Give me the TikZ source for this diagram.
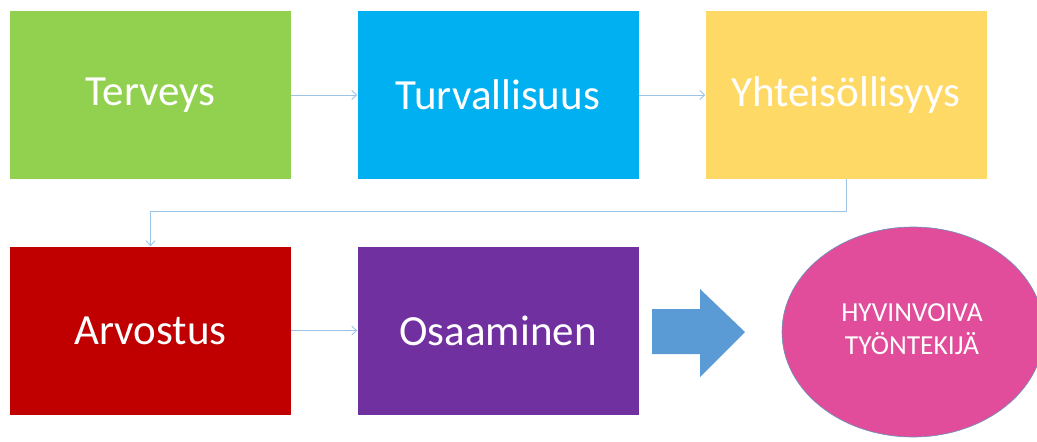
\documentclass[tikz,border=0pt]{standalone}
\usepackage{fontspec}
\setmainfont{Carlito}
\usetikzlibrary{arrows.meta,shapes.geometric}
\definecolor{cgreen}{HTML}{92D050}
\definecolor{cblue}{HTML}{00B0F0}
\definecolor{cyellow}{HTML}{FFD966}
\definecolor{cred}{HTML}{C00000}
\definecolor{cpurple}{HTML}{7030A0}
\definecolor{cpink}{HTML}{E14D9A}
\definecolor{cline}{HTML}{9DC3E6}
\definecolor{carrow}{HTML}{5B9BD5}
\newcommand{\lowtxt}[1]{\raisebox{-5pt}{#1}}
\begin{document}
\begin{tikzpicture}[x=1pt,y=-1pt,
  box/.style={minimum width=281pt,minimum height=168pt,inner sep=0pt,text=white,font=\fontsize{43}{47}\selectfont},
  conn/.style={draw=cline,line width=0.9pt,-{Straight Barb[length=5pt,width=9pt]}}]
\useasboundingbox (0,0) rectangle (1037,442);
\node[box,fill=cgreen] (ter) at (150.5,95) {\lowtxt{Terveys}};
\node[box,fill=cblue] (tur) at (498,95) {\lowtxt{Turvallisuus}};
\node[box,fill=cyellow] (yht) at (846,95) {\lowtxt{Yhteisöllisyys}};
\node[box,fill=cred] (arv) at (150.5,330.5) {\lowtxt{Arvostus}};
\node[box,fill=cpurple] (osa) at (498,330.5) {\lowtxt{Osaaminen}};
\node[draw=carrow!70!gray,line width=0.6pt,fill=cpink,ellipse,minimum width=262pt,minimum height=210pt,inner sep=0pt] (hyv) at (913,332) {};
\node[text=white,align=center,font=\fontsize{27.5}{33}\selectfont] (hyvt) at (912,329) {HYVINVOIVA\\TYÖNTEKIJÄ};
\fill[carrow] (652,309) -- (700,309) -- (700,289) -- (745,332) -- (700,377) -- (700,354) -- (652,354) -- cycle;
\coordinate (c1) at (846,211);
\coordinate (c2) at (150.5,211);
\draw[conn] (ter.east) -- (tur.west);
\draw[conn] (tur.east) -- (yht.west);
\draw[conn] (yht.south) -- (c1) -- (c2) -- (arv.north);
\draw[conn] (arv.east) -- (osa.west);
\end{tikzpicture}
\end{document}
